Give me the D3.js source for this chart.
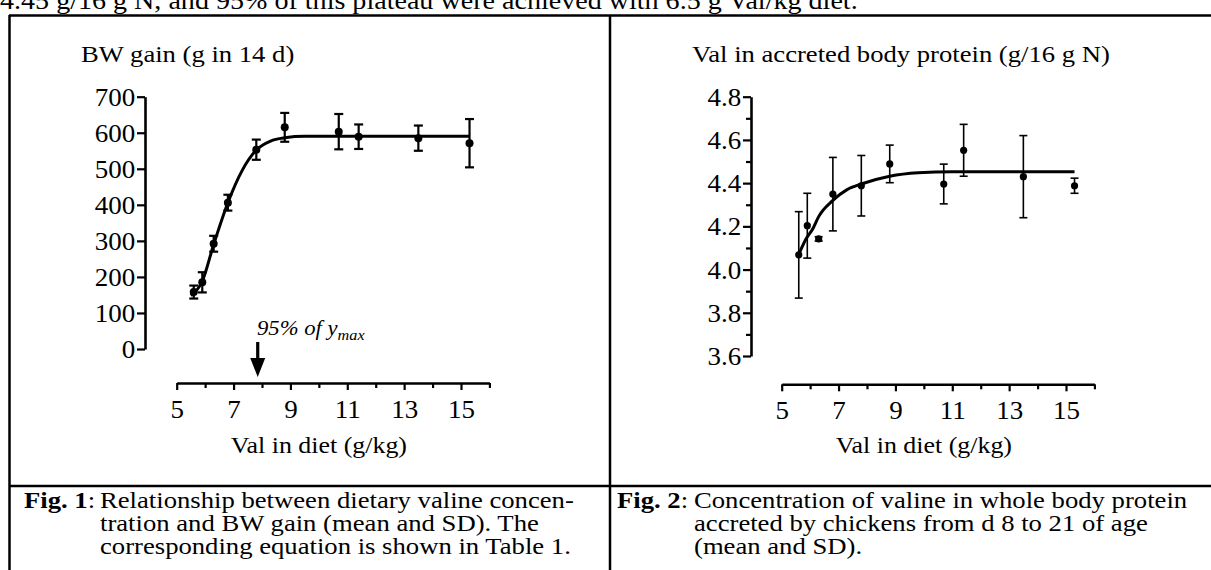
<!DOCTYPE html>
<html>
<head>
<meta charset="utf-8">
<script src="https://cdn.jsdelivr.net/npm/d3@7"></script>
<style>
  html, body { margin: 0; padding: 0; background: #fff; }
  svg { display: block; }
  text { font-family: "Liberation Serif", "Times New Roman", serif; fill: #000; }
</style>
</head>
<body>
<script>
// ---------- data ----------
const dietVal = [5.6, 5.9, 6.3, 6.8, 7.8, 8.8, 10.7, 11.4, 13.5, 15.3];
const bwMean  = [158, 185, 292, 406, 553, 615, 603, 589, 585, 571];
const bwSD    = [18, 28, 22, 22, 28, 40, 49, 34, 35, 67];
const valMean = [4.068, 4.203, 4.142, 4.349, 4.388, 4.489, 4.396, 4.552, 4.43, 4.388];
const valSD   = [0.20, 0.15, 0.01, 0.17, 0.14, 0.087, 0.092, 0.12, 0.19, 0.035];

// fitted curves
const bwCurveX  = [5.5, 5.9, 6.3, 6.8, 7.3, 7.8, 8.3, 8.8, 9.5, 10.5, 15.3];
const bwCurveY  = [148, 188, 290, 406, 495, 552, 577, 586, 590, 590, 590];
const valCurveX = [5.6, 5.85, 6.1, 6.3, 6.8, 7.3, 7.8, 8.8, 9.8, 11, 15.3];
const valCurveY = [4.07, 4.14, 4.19, 4.245, 4.32, 4.37, 4.396, 4.432, 4.448, 4.453, 4.453];

const xMajorTicks = [5, 7, 9, 11, 13, 15];
const xMinorTicks = [6, 8, 10, 12, 14, 16];
const bwTicks  = [0, 100, 200, 300, 400, 500, 600, 700];
const valTicks = [3.6, 3.8, 4.0, 4.2, 4.4, 4.6, 4.8];
const valMinor = [3.7, 3.9, 4.1, 4.3, 4.5, 4.7];
const arrowX = 7.85;

const topText = "4.45 g/16 g N, and 95% of this plateau were achieved with 6.5 g Val/kg diet.";
const title1 = "BW gain (g in 14 d)";
const title2 = "Val in accreted body protein (g/16 g N)";
const xTitle = "Val in diet (g/kg)";
const cap1 = ["Relationship between dietary valine concen-", "tration and BW gain (mean and SD). The", "corresponding equation is shown in Table 1."];
const cap2 = ["Concentration of valine in whole body protein", "accreted by chickens from d 8 to 21 of age", "(mean and SD)."];

// ---------- drawing ----------
const W = 1211, H = 570;
const SX = 1.08; // horizontal stretch of text in the source image
const svg = d3.select("body").append("svg").attr("width", W).attr("height", H);

function txt(g, x, y, s, size, anchor, sx) {
  return g.append("text")
    .attr("transform", `translate(${x},${y}) scale(${sx || SX},1)`)
    .attr("font-size", size)
    .attr("text-anchor", anchor || "start")
    .text(s);
}

// top sentence, cut off by the page top
txt(svg, 0, 9, topText, 26, "start", 1.08);

// frame
const frame = svg.append("g").attr("stroke", "#000").attr("stroke-width", 2.5);
frame.append("line").attr("x1", 9).attr("x2", W).attr("y1", 15.5).attr("y2", 15.5);
frame.append("line").attr("x1", 9.5).attr("x2", 9.5).attr("y1", 15).attr("y2", H);
frame.append("line").attr("x1", 610).attr("x2", 610).attr("y1", 15).attr("y2", H);
frame.append("line").attr("x1", 9).attr("x2", W).attr("y1", 486).attr("y2", 486);

function panel(opt) {
  const g = svg.append("g");
  const x = d3.scaleLinear().domain([5, 16]).range([opt.x0, opt.x0 + 11 * 28.43]);
  const y = d3.scaleLinear().domain(opt.yDomain).range([opt.yBottom, opt.yTop]);

  // x axis
  const xa = g.append("g").attr("transform", `translate(0,${opt.xAxisY})`)
    .call(d3.axisBottom(x).tickValues(xMajorTicks).tickSize(7).tickSizeOuter(0).tickPadding(10));
  g.append("g").attr("transform", `translate(0,${opt.xAxisY})`)
    .call(d3.axisBottom(x).tickValues(xMinorTicks).tickSize(5).tickSizeOuter(0).tickFormat(""))
    .select(".domain").remove();
  // y axis
  const ya = g.append("g").attr("transform", `translate(${opt.yAxisX},0)`)
    .call(d3.axisLeft(y).tickValues(opt.yTicks).tickSize(8).tickSizeOuter(0).tickPadding(1)
      .tickFormat(opt.fmt));
  if (opt.yMinor) {
    g.append("g").attr("transform", `translate(${opt.yAxisX},0)`)
      .call(d3.axisLeft(y).tickValues(opt.yMinor).tickSize(5).tickSizeOuter(0).tickFormat(""))
      .select(".domain").remove();
  }
  g.selectAll(".domain").attr("stroke-width", 2.6).attr("stroke", "#000");
  g.selectAll(".tick line").attr("stroke-width", 2.2).attr("stroke", "#000");
  g.selectAll(".tick text")
    .attr("font-family", '"Liberation Serif", "Times New Roman", serif')
    .attr("font-size", 25).attr("fill", "#000");
  xa.selectAll(".tick text").attr("transform", `scale(${SX},1)`).attr("dy", "0.71em");
  ya.selectAll(".tick text").attr("transform", `scale(${SX},1)`).attr("dy", "0.34em");

  // titles
  txt(g, opt.titleX, 62, opt.title, 24, "start", 1.11);
  txt(g, x(10), 453, xTitle, 24, "middle");

  // fitted curve
  const pts = opt.cx.map((d, i) => [x(d), y(opt.cy[i])]);
  g.append("path").attr("d", d3.line().curve(d3.curveMonotoneX)(pts))
    .attr("fill", "none").attr("stroke", "#000").attr("stroke-width", opt.curveW);

  // error bars
  const eb = g.append("g").attr("stroke", "#000").attr("stroke-width", opt.errW);
  dietVal.forEach((d, i) => {
    const cx = x(d), top = y(opt.mean[i] + opt.sd[i]), bot = y(opt.mean[i] - opt.sd[i]);
    eb.append("line").attr("x1", cx).attr("x2", cx).attr("y1", top).attr("y2", bot);
    eb.append("line").attr("x1", cx - opt.capW).attr("x2", cx + opt.capW).attr("y1", top).attr("y2", top);
    eb.append("line").attr("x1", cx - opt.capW).attr("x2", cx + opt.capW).attr("y1", bot).attr("y2", bot);
  });
  g.append("g").selectAll("circle").data(dietVal).join("circle")
    .attr("cx", d => x(d)).attr("cy", (d, i) => y(opt.mean[i])).attr("r", opt.r).attr("fill", "#000");
  return { g, x, y };
}

const p1 = panel({
  x0: 176.7, xAxisY: 383, yAxisX: 145, yDomain: [0, 700], yBottom: 349, yTop: 96.7,
  yTicks: bwTicks, fmt: d3.format("d"), title: title1, titleX: 81,
  cx: bwCurveX, cy: bwCurveY, mean: bwMean, sd: bwSD,
  curveW: 3, errW: 2.2, capW: 4.5, r: 4
});
const p2 = panel({
  x0: 781.7, xAxisY: 384.3, yAxisX: 751, yDomain: [3.6, 4.8], yBottom: 356, yTop: 96.7,
  yTicks: valTicks, yMinor: valMinor, fmt: d3.format(".1f"), title: title2, titleX: 692,
  cx: valCurveX, cy: valCurveY, mean: valMean, sd: valSD,
  curveW: 3, errW: 1.6, capW: 4, r: 3.6
});

// 95% arrow
const ax = p1.x(arrowX);
svg.append("line").attr("x1", ax).attr("x2", ax).attr("y1", 342).attr("y2", 362)
  .attr("stroke", "#000").attr("stroke-width", 3.2);
svg.append("path").attr("d", `M${ax - 7.5},358 L${ax + 7.5},358 L${ax},377 Z`).attr("fill", "#000");
const lab = svg.append("text").attr("transform", `translate(257,335) scale(${SX},1)`)
  .attr("font-size", 21).attr("font-style", "italic");
lab.append("tspan").text("95% of y");
lab.append("tspan").attr("font-size", 15).attr("dy", 5).text("max");

// captions (hanging indent: body text aligned after the label)
function caption(x0, indent, label, lines) {
  const baseY = [508, 531, 554];
  const t = svg.append("text").attr("transform", `translate(${x0},${baseY[0]}) scale(1.16,1)`).attr("font-size", 23);
  t.append("tspan").attr("font-weight", "bold").text(label);
  t.append("tspan").text(":");
  for (let i = 0; i < lines.length; i++) {
    txt(svg, x0 + indent, baseY[i], lines[i], 23, "start", 1.16);
  }
}
caption(24, 76, "Fig. 1", cap1);
caption(617, 77, "Fig. 2", cap2);
</script>
</body>
</html>
